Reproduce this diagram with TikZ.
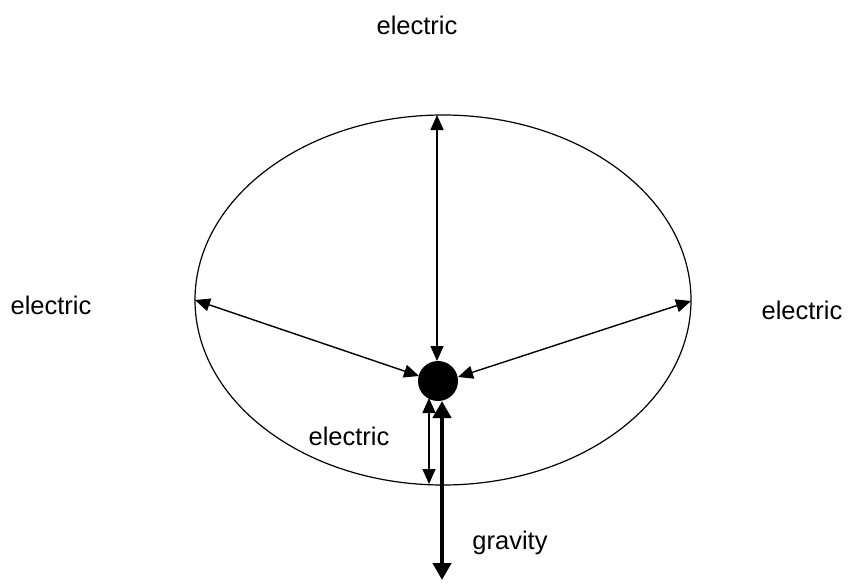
\documentclass[tikz,border=0pt]{standalone}
\usepackage{fontspec}
\setmainfont{Liberation Sans}
\usetikzlibrary{arrows.meta}
\begin{document}
\begin{tikzpicture}[x=1pt,y=-1pt,
  lbl/.style={font=\fontsize{25.5}{30}\selectfont, inner sep=0pt},
  thin arrow/.style={line width=1.4pt, {Triangle[length=15pt,width=13pt]}-{Triangle[length=15pt,width=13pt]}},
  thick arrow/.style={line width=4.4pt, {Triangle[length=17pt,width=18pt]}-{Triangle[length=17pt,width=18pt]}}]
\useasboundingbox (0,0) rectangle (853,586);
\draw[line width=1.2pt] (443,300) ellipse [x radius=248, y radius=185];
\node[circle, fill=black, minimum size=40pt, inner sep=0pt] (dot) at (438,381) {};
\coordinate (etop) at (437,115);
\coordinate (dtop) at (437,361);
\coordinate (eleft) at (195,300);
\coordinate (dleft) at (419,376);
\coordinate (eright) at (691,301);
\coordinate (dright) at (458,377);
\coordinate (s1) at (429,398);
\coordinate (s2) at (429,484);
\coordinate (g1) at (442,401);
\coordinate (g2) at (442,580);
\draw[thin arrow] (etop) -- (dtop);
\draw[thin arrow] (eleft) -- (dleft);
\draw[thin arrow] (eright) -- (dright);
\draw[thin arrow] (s1) -- (s2);
\draw[thick arrow] (g1) -- (g2);
\node[lbl] (t1) at (417,25) {electric};
\node[lbl] (t2) at (51,305) {electric};
\node[lbl] (t3) at (802,310) {electric};
\node[lbl] (t4) at (349,436) {electric};
\node[lbl] (t5) at (510,543) {gravity};
\end{tikzpicture}
\end{document}
